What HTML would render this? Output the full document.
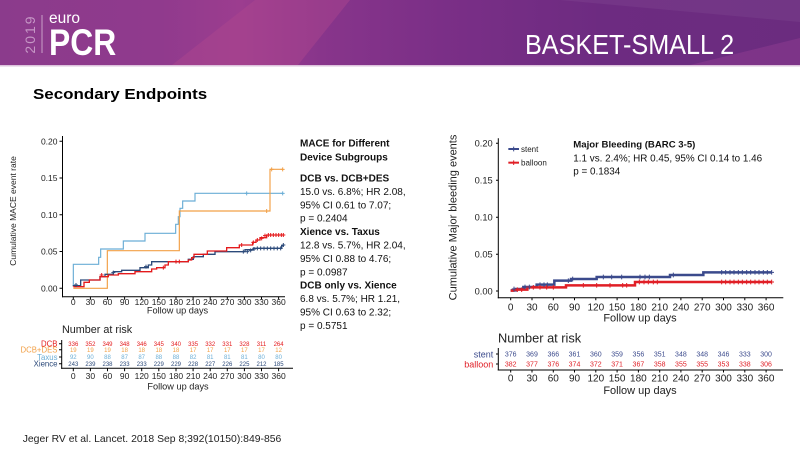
<!DOCTYPE html>
<html><head><meta charset="utf-8"><style>
html,body{margin:0;padding:0;background:#fff;}
body{width:800px;height:450px;overflow:hidden;position:relative;}
svg{position:absolute;left:0;top:0;font-family:"Liberation Sans",Arial,sans-serif;}
</style></head><body>
<svg width="800" height="450" viewBox="0 0 800 450" xmlns="http://www.w3.org/2000/svg">
<defs>
<linearGradient id="hg" x1="0" y1="0" x2="1" y2="0">
<stop offset="0" stop-color="#8b3b8c"/>
<stop offset="0.2" stop-color="#903a8d"/>
<stop offset="0.3" stop-color="#9c3d8f"/>
<stop offset="0.4" stop-color="#88358b"/>
<stop offset="0.55" stop-color="#7b2f87"/>
<stop offset="0.75" stop-color="#6d2b81"/>
<stop offset="1" stop-color="#6b2c7f"/>
</linearGradient>
</defs>
<!-- header -->
<rect x="0" y="0" width="800" height="65" fill="url(#hg)"/>
<polygon points="172,65 255,0 350,0 298,65" fill="#b0468f" opacity="0.45"/>
<polygon points="560,0 800,0 800,22" fill="#ffffff" opacity="0.05"/>
<polygon points="690,65 800,38 800,65" fill="#a0449a" opacity="0.35"/>
<rect x="0" y="65" width="800" height="1.5" fill="#dcc3dc"/>
<text transform="translate(35,34) rotate(-90)" text-anchor="middle" font-size="14" letter-spacing="2" fill="#c596c5">2019</text>
<line x1="42" y1="15" x2="42" y2="53" stroke="#c9a0c8" stroke-width="1"/>
<text x="49" y="23" font-size="15.5" fill="#fff">euro</text>
<text transform="translate(49,55) scale(0.86,1)" font-size="37" font-weight="bold" fill="#fff">PCR</text>
<text transform="translate(525,54) scale(0.92,1)" font-size="27.4" fill="#fff">BASKET-SMALL 2</text>

<text transform="translate(33,99) scale(1.13,1)" font-size="15" font-weight="bold" fill="#000">Secondary Endpoints</text>

<!-- LEFT CHART -->
<g stroke="#000" stroke-width="1" fill="none">
<line x1="62.5" y1="136" x2="62.5" y2="297.3"/>
<line x1="62" y1="296.8" x2="285" y2="296.8"/>
<path d="M59.5,141.3H62.5M59.5,178.05H62.5M59.5,214.8H62.5M59.5,251.55H62.5M59.5,288.3H62.5"/>
<path d="M73.3,296.8v3M90.4,296.8v3M107.5,296.8v3M124.6,296.8v3M141.7,296.8v3M158.8,296.8v3M176,296.8v3M193.1,296.8v3M210.2,296.8v3M227.3,296.8v3M244.4,296.8v3M261.5,296.8v3M278.6,296.8v3"/>
</g>
<g font-size="8.5" fill="#222" text-anchor="end">
<text x="57.5" y="144.4">0.20</text>
<text x="57.5" y="181.1">0.15</text>
<text x="57.5" y="217.9">0.10</text>
<text x="57.5" y="254.6">0.05</text>
<text x="57.5" y="291.4">0.00</text>
</g>
<g font-size="8.5" fill="#222" text-anchor="middle">
<text x="73.3" y="305.2">0</text><text x="90.4" y="305.2">30</text><text x="107.5" y="305.2">60</text><text x="124.6" y="305.2">90</text><text x="141.7" y="305.2">120</text><text x="158.8" y="305.2">150</text><text x="176" y="305.2">180</text><text x="193.1" y="305.2">210</text><text x="210.2" y="305.2">240</text><text x="227.3" y="305.2">270</text><text x="244.4" y="305.2">300</text><text x="261.5" y="305.2">330</text><text x="278.6" y="305.2">360</text>
</g>
<text x="177.5" y="313.6" font-size="9.2" text-anchor="middle" fill="#222">Follow up days</text>
<text transform="translate(16.2,211) rotate(-90)" font-size="8.5" text-anchor="middle" fill="#222">Cumulative MACE event rate</text>

<g transform="translate(0,125) scale(0.333333)" fill="none" stroke-linejoin="miter">
<path stroke="#6baed6" stroke-width="3.5" d="M220,480 V418 H296 V397 H302 V372 H370 V348 H435 V325 H527 V298 H535 V275 H540 V250 H548 V228 H585 V205 H850"/>
<path stroke="#f2a047" stroke-width="3.5" d="M220,490 H322 V377 H538 V258 H810 V133 H850"/>
<path stroke="#2c4a7a" stroke-width="4" d="M218,482 H242 V465 H300 V455 H315 V448 H340 V440 H365 V436 H420 V428 H445 V420 H455 V410 H565 V403 H580 V395 H610 V388 H645 V380 H735 V374 H760 V370 H845 V362 H852"/>
<path stroke="#e41a1c" stroke-width="4" d="M220,485 H252 V472 H268 V465 H300 V455 H325 V450 H355 V446 H405 V440 H455 V432 H470 V428 H495 V420 H505 V410 H565 V405 H575 V398 H582 V388 H622 V378 H680 V368 H718 V360 H758 V352 H768 V345 H780 V338 H800 V330 H850"/>
<path stroke="#e41a1c" stroke-width="3" d="M299,450h12M305,444v12 M484,428h12M490,422v12 M522,410h12M528,404v12 M532,410h12M538,404v12 M719,360h12M725,354v12 M754,352h12M760,346v12 M766,345h12M772,339v12 M779,340h12M785,334v12 M789,332h12M795,326v12 M799,330h12M805,324v12 M806,330h12M812,324v12 M814,330h12M820,324v12 M822,330h12M828,324v12 M830,330h12M836,324v12 M838,330h12M844,324v12 M844,330h12M850,324v12"/>
<path stroke="#2c4a7a" stroke-width="3" d="M222,480h12M228,474v12 M334,443h12M340,437v12 M432,425h12M438,419v12 M724,380h12M730,374v12 M736,380h12M742,374v12 M746,376h12M752,370v12 M756,372h12M762,366v12 M766,370h12M772,364v12 M776,370h12M782,364v12 M786,370h12M792,364v12 M796,370h12M802,364v12 M806,370h12M812,364v12 M816,370h12M822,364v12 M826,370h12M832,364v12 M836,370h12M842,364v12 M844,360h12M850,354v12"/>
<path stroke="#6baed6" stroke-width="3" d="M734,205h12M740,199v12 M842,205h12M848,199v12"/>
<path stroke="#f2a047" stroke-width="3" d="M794,258h12M800,252v12 M809,133h12M815,127v12 M842,133h12M848,127v12"/>
</g>

<!-- LEFT TEXT BLOCK -->
<g font-size="10" fill="#111">
<text x="300" y="146.5" font-weight="bold">MACE for Different</text>
<text x="300" y="160.5" font-weight="bold">Device Subgroups</text>
<text x="300" y="181.5" font-weight="bold">DCB vs. DCB+DES</text>
<text x="300" y="194.9">15.0 vs. 6.8%;  HR 2.08,</text>
<text x="300" y="208.3">95% CI 0.61 to 7.07;</text>
<text x="300" y="221.7">p = 0.2404</text>
<text x="300" y="235.1" font-weight="bold">Xience vs. Taxus</text>
<text x="300" y="248.5">12.8 vs. 5.7%, HR 2.04,</text>
<text x="300" y="261.9">95% CI 0.88 to 4.76;</text>
<text x="300" y="275.3">p = 0.0987</text>
<text x="300" y="288.7" font-weight="bold">DCB only vs. Xience</text>
<text x="300" y="302.1">6.8 vs. 5.7%; HR 1.21,</text>
<text x="300" y="315.5">95% CI 0.63 to 2.32;</text>
<text x="300" y="328.9">p = 0.5751</text>
</g>

<!-- LEFT NUMBER AT RISK -->
<text x="62" y="333.2" font-size="10.8" fill="#222">Number at risk</text>
<g font-size="7.8" text-anchor="end">
<text x="57.5" y="346.5" fill="#e41a1c">DCB</text>
<text x="57.5" y="352.5" fill="#f2a047">DCB+DES</text>
<text x="57.5" y="359.8" fill="#6baed6">Taxus</text>
<text x="57.5" y="366.5" fill="#2c4a7a">Xience</text>
</g>
<g stroke="#000" stroke-width="1" fill="none">
<line x1="61.7" y1="340" x2="61.7" y2="368.8"/>
<line x1="61.2" y1="368.3" x2="293" y2="368.3"/>
<path d="M59,343.7h2.7M59,349.7h2.7M59,357h2.7M59,363.7h2.7"/>
<path d="M73.3,368.3v3M90.4,368.3v3M107.5,368.3v3M124.6,368.3v3M141.7,368.3v3M158.8,368.3v3M176,368.3v3M193.1,368.3v3M210.2,368.3v3M227.3,368.3v3M244.4,368.3v3M261.5,368.3v3M278.6,368.3v3"/>
</g>
<g font-size="6" text-anchor="middle" fill="#e41a1c">
<text x="73.3" y="345.9">336</text><text x="90.4" y="345.9">352</text><text x="107.5" y="345.9">349</text><text x="124.6" y="345.9">348</text><text x="141.7" y="345.9">346</text><text x="158.8" y="345.9">345</text><text x="176" y="345.9">340</text><text x="193.1" y="345.9">335</text><text x="210.2" y="345.9">332</text><text x="227.3" y="345.9">331</text><text x="244.4" y="345.9">328</text><text x="261.5" y="345.9">311</text><text x="278.6" y="345.9">264</text>
</g>
<g font-size="6" text-anchor="middle" fill="#f2a047">
<text x="73.3" y="351.9">19</text><text x="90.4" y="351.9">19</text><text x="107.5" y="351.9">19</text><text x="124.6" y="351.9">18</text><text x="141.7" y="351.9">18</text><text x="158.8" y="351.9">18</text><text x="176" y="351.9">18</text><text x="193.1" y="351.9">17</text><text x="210.2" y="351.9">17</text><text x="227.3" y="351.9">17</text><text x="244.4" y="351.9">17</text><text x="261.5" y="351.9">17</text><text x="278.6" y="351.9">12</text>
</g>
<g font-size="6" text-anchor="middle" fill="#6baed6">
<text x="73.3" y="359.2">92</text><text x="90.4" y="359.2">90</text><text x="107.5" y="359.2">88</text><text x="124.6" y="359.2">87</text><text x="141.7" y="359.2">87</text><text x="158.8" y="359.2">88</text><text x="176" y="359.2">88</text><text x="193.1" y="359.2">82</text><text x="210.2" y="359.2">81</text><text x="227.3" y="359.2">81</text><text x="244.4" y="359.2">81</text><text x="261.5" y="359.2">80</text><text x="278.6" y="359.2">80</text>
</g>
<g font-size="6" text-anchor="middle" fill="#2c4a7a">
<text x="73.3" y="365.9">243</text><text x="90.4" y="365.9">239</text><text x="107.5" y="365.9">238</text><text x="124.6" y="365.9">233</text><text x="141.7" y="365.9">233</text><text x="158.8" y="365.9">229</text><text x="176" y="365.9">229</text><text x="193.1" y="365.9">228</text><text x="210.2" y="365.9">227</text><text x="227.3" y="365.9">226</text><text x="244.4" y="365.9">225</text><text x="261.5" y="365.9">212</text><text x="278.6" y="365.9">185</text>
</g>
<g font-size="8.5" fill="#222" text-anchor="middle">
<text x="73.3" y="379.1">0</text><text x="90.4" y="379.1">30</text><text x="107.5" y="379.1">60</text><text x="124.6" y="379.1">90</text><text x="141.7" y="379.1">120</text><text x="158.8" y="379.1">150</text><text x="176" y="379.1">180</text><text x="193.1" y="379.1">210</text><text x="210.2" y="379.1">240</text><text x="227.3" y="379.1">270</text><text x="244.4" y="379.1">300</text><text x="261.5" y="379.1">330</text><text x="278.6" y="379.1">360</text>
</g>
<text x="178" y="389.4" font-size="9.2" text-anchor="middle" fill="#222">Follow up days</text>

<!-- RIGHT CHART -->
<g stroke="#000" stroke-width="1" fill="none">
<line x1="498.3" y1="138.3" x2="498.3" y2="298.2"/>
<line x1="497.8" y1="297.7" x2="783.3" y2="297.7"/>
<path d="M496,143.3h2.3M496,180.3h2.3M496,217.3h2.3M496,254.3h2.3M496,291h2.3"/>
<path d="M510.7,297.7v2.5M532,297.7v2.5M553.3,297.7v2.5M574.5,297.7v2.5M595.8,297.7v2.5M617.1,297.7v2.5M638.4,297.7v2.5M659.7,297.7v2.5M680.9,297.7v2.5M702.2,297.7v2.5M723.5,297.7v2.5M744.8,297.7v2.5M766.1,297.7v2.5"/>
</g>
<g font-size="9.3" fill="#222" text-anchor="end">
<text x="492.7" y="146.6">0.20</text>
<text x="492.7" y="183.6">0.15</text>
<text x="492.7" y="220.6">0.10</text>
<text x="492.7" y="257.6">0.05</text>
<text x="492.7" y="294.3">0.00</text>
</g>
<g font-size="10" fill="#222" text-anchor="middle">
<text x="510.7" y="310.3">0</text><text x="532" y="310.3">30</text><text x="553.3" y="310.3">60</text><text x="574.5" y="310.3">90</text><text x="595.8" y="310.3">120</text><text x="617.1" y="310.3">150</text><text x="638.4" y="310.3">180</text><text x="659.7" y="310.3">210</text><text x="680.9" y="310.3">240</text><text x="702.2" y="310.3">270</text><text x="723.5" y="310.3">300</text><text x="744.8" y="310.3">330</text><text x="766.1" y="310.3">360</text>
</g>
<text x="640" y="321.5" font-size="11" text-anchor="middle" fill="#222">Follow up days</text>
<text transform="translate(456.3,217.5) rotate(-90)" font-size="11" text-anchor="middle" fill="#222">Cumulative Major bleeding events</text>

<g transform="translate(440,125) scale(0.333333)" fill="none">
<path stroke="#3b4a8c" stroke-width="7.5" d="M212,496 H228 V492 H250 V486 H290 V479 H343 V467 H393 V462 H470 V456 H690 V450 H790 V442 H995"/>
<path stroke="#e01f26" stroke-width="7.5" d="M212,497 H220 V494 H262 V487 H378 V481 H585 V471 H995"/>
<path stroke="#3b4a8c" stroke-width="3" d="M215,492h14M222,485v14 M248,486h14M255,479v14 M261,486h14M268,479v14 M293,479h14M300,472v14 M305,479h14M312,472v14 M315,479h14M322,472v14 M378,467h14M385,460v14 M391,462h14M398,455v14 M483,456h14M490,449v14 M508,456h14M515,449v14 M538,456h14M545,449v14 M593,456h14M600,449v14 M608,456h14M615,449v14 M621,456h14M628,449v14 M693,450h14M700,443v14 M838,442h14M845,435v14 M850,442h14M857,435v14 M863,442h14M870,435v14 M875,442h14M882,435v14 M888,442h14M895,435v14 M900,442h14M907,435v14 M913,442h14M920,435v14 M925,442h14M932,435v14 M938,442h14M945,435v14 M950,442h14M957,435v14 M963,442h14M970,435v14 M975,442h14M982,435v14 M988,442h14M995,435v14"/>
<path stroke="#e01f26" stroke-width="3" d="M225,494h14M232,487v14 M238,494h14M245,487v14 M273,487h14M280,480v14 M293,487h14M300,480v14 M313,487h14M320,480v14 M333,487h14M340,480v14 M423,481h14M430,474v14 M463,481h14M470,474v14 M503,481h14M510,474v14 M541,481h14M548,474v14 M553,481h14M560,474v14 M591,471h14M598,464v14 M605,471h14M612,464v14 M618,471h14M625,464v14 M633,471h14M640,464v14 M645,471h14M652,464v14 M838,471h14M845,464v14 M850,471h14M857,464v14 M863,471h14M870,464v14 M875,471h14M882,464v14 M888,471h14M895,464v14 M900,471h14M907,464v14 M913,471h14M920,464v14 M925,471h14M932,464v14 M938,471h14M945,464v14 M950,471h14M957,464v14 M963,471h14M970,464v14 M975,471h14M982,464v14 M988,471h14M995,464v14"/>
<path stroke="#3b4a8c" stroke-width="6" d="M205,72 H237"/>
<path stroke="#3b4a8c" stroke-width="3" d="M214,72h14M221,65v14"/>
<path stroke="#e01f26" stroke-width="6" d="M205,113 H237"/>
<path stroke="#e01f26" stroke-width="3" d="M214,113h14M221,106v14"/>
</g>
<text x="521" y="151.8" font-size="8" fill="#222">stent</text>
<text x="521" y="165.5" font-size="8" fill="#222">balloon</text>
<text x="573.3" y="147.5" font-size="9.6" font-weight="bold" fill="#111">Major Bleeding (BARC 3-5)</text>
<text x="573.3" y="161.6" font-size="9.9" fill="#111">1.1 vs. 2.4%; HR 0.45, 95% CI 0.14 to 1.46</text>
<text x="573.3" y="174.6" font-size="9.9" fill="#111">p = 0.1834</text>

<!-- RIGHT NUMBER AT RISK -->
<text x="498" y="342.7" font-size="12.8" fill="#222">Number at risk</text>
<text x="493.3" y="357.3" font-size="9" text-anchor="end" fill="#3b4a8c">stent</text>
<text x="493.3" y="367.3" font-size="9" text-anchor="end" fill="#e01f26">balloon</text>
<g stroke="#000" stroke-width="1" fill="none">
<line x1="498.3" y1="348" x2="498.3" y2="370.5"/>
<line x1="497.8" y1="370" x2="783" y2="370"/>
<path d="M496,354h2.3M496,364h2.3"/>
<path d="M510.7,370v2.5M532,370v2.5M553.3,370v2.5M574.5,370v2.5M595.8,370v2.5M617.1,370v2.5M638.4,370v2.5M659.7,370v2.5M680.9,370v2.5M702.2,370v2.5M723.5,370v2.5M744.8,370v2.5M766.1,370v2.5"/>
</g>
<g font-size="7" text-anchor="middle" fill="#3b4a8c">
<text x="510.7" y="356.5">376</text><text x="532" y="356.5">369</text><text x="553.3" y="356.5">366</text><text x="574.5" y="356.5">361</text><text x="595.8" y="356.5">360</text><text x="617.1" y="356.5">359</text><text x="638.4" y="356.5">356</text><text x="659.7" y="356.5">351</text><text x="680.9" y="356.5">348</text><text x="702.2" y="356.5">348</text><text x="723.5" y="356.5">346</text><text x="744.8" y="356.5">333</text><text x="766.1" y="356.5">300</text>
</g>
<g font-size="7" text-anchor="middle" fill="#e01f26">
<text x="510.7" y="366.5">382</text><text x="532" y="366.5">377</text><text x="553.3" y="366.5">376</text><text x="574.5" y="366.5">374</text><text x="595.8" y="366.5">372</text><text x="617.1" y="366.5">371</text><text x="638.4" y="366.5">367</text><text x="659.7" y="366.5">358</text><text x="680.9" y="366.5">355</text><text x="702.2" y="366.5">355</text><text x="723.5" y="366.5">353</text><text x="744.8" y="366.5">338</text><text x="766.1" y="366.5">306</text>
</g>
<g font-size="10" fill="#222" text-anchor="middle">
<text x="510.7" y="381.3">0</text><text x="532" y="381.3">30</text><text x="553.3" y="381.3">60</text><text x="574.5" y="381.3">90</text><text x="595.8" y="381.3">120</text><text x="617.1" y="381.3">150</text><text x="638.4" y="381.3">180</text><text x="659.7" y="381.3">210</text><text x="680.9" y="381.3">240</text><text x="702.2" y="381.3">270</text><text x="723.5" y="381.3">300</text><text x="744.8" y="381.3">330</text><text x="766.1" y="381.3">360</text>
</g>
<text x="640" y="394" font-size="11" text-anchor="middle" fill="#222">Follow up days</text>

<!-- citation -->
<text x="22.7" y="441.8" font-size="10.4" fill="#222">Jeger RV et al. Lancet. 2018 Sep 8;392(10150):849-856</text>
</svg>
</body></html>
